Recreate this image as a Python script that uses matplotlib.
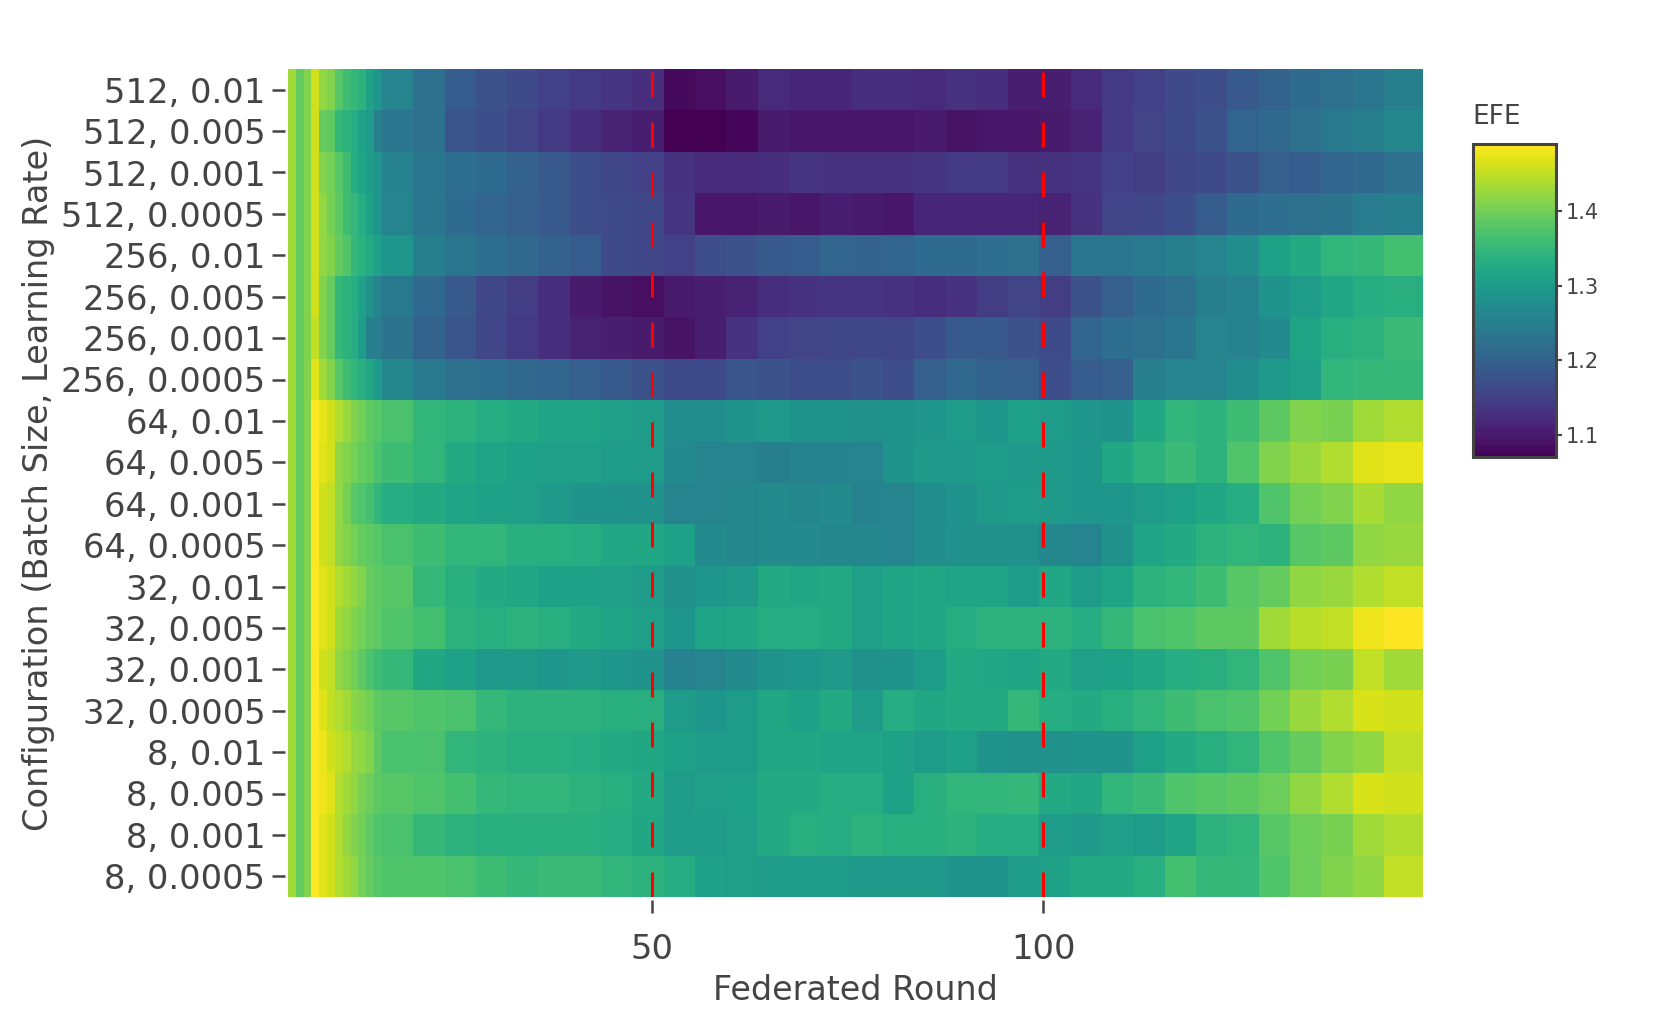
import numpy as np
import matplotlib
matplotlib.use("Agg")
import matplotlib.pyplot as plt

plt.rcParams['font.family'] = ['DejaVu Sans']
plt.rcParams['lines.scale_dashes'] = False

grey = '#444444'

configs = ['512, 0.01', '512, 0.005', '512, 0.001', '512, 0.0005',
           '256, 0.01', '256, 0.005', '256, 0.001', '256, 0.0005',
           '64, 0.01', '64, 0.005', '64, 0.001', '64, 0.0005',
           '32, 0.01', '32, 0.005', '32, 0.001', '32, 0.0005',
           '8, 0.01', '8, 0.005', '8, 0.001', '8, 0.0005']

# rounds 4-15 one by one, after that values are read per 4 rounds
round_edges = [3.5, 4.5, 5.5, 6.5, 7.5, 8.5, 9.5, 10.5, 11.5, 12.5, 13.5, 14.5, 15.5,
               19.5, 23.5, 27.5, 31.5, 35.5, 39.5, 43.5, 47.5, 51.5,
               55.5, 59.5, 63.5, 67.5, 71.5, 75.5, 79.5, 83.5, 87.5, 91.5, 95.5, 99.5,
               103.5, 107.5, 111.5, 115.5, 119.5, 123.5, 127.5, 131.5, 135.5, 139.5, 143.5, 148.5]

bs512_01 = [1.43, 1.39, 1.41, 1.46, 1.42, 1.41, 1.38, 1.36, 1.35, 1.34, 1.31, 1.29,
            1.26, 1.225, 1.19, 1.175, 1.165, 1.15, 1.14, 1.135, 1.125,
            1.08, 1.085, 1.10, 1.12, 1.115, 1.115, 1.125, 1.125, 1.12, 1.13, 1.125, 1.105,
            1.105, 1.12, 1.14, 1.15, 1.165, 1.17, 1.185, 1.20, 1.215, 1.225, 1.235, 1.25]
bs512_005 = [1.43, 1.39, 1.41, 1.46, 1.39, 1.385, 1.35, 1.34, 1.33, 1.31, 1.30, 1.25,
             1.235, 1.225, 1.18, 1.17, 1.155, 1.14, 1.125, 1.11, 1.105,
             1.07, 1.07, 1.075, 1.10, 1.095, 1.095, 1.095, 1.095, 1.10, 1.09, 1.095, 1.095,
             1.10, 1.11, 1.14, 1.155, 1.165, 1.175, 1.205, 1.21, 1.225, 1.24, 1.25, 1.265]
bs512_001 = [1.43, 1.39, 1.41, 1.46, 1.41, 1.40, 1.38, 1.36, 1.33, 1.315, 1.30, 1.29,
             1.255, 1.235, 1.22, 1.215, 1.20, 1.185, 1.17, 1.16, 1.15,
             1.13, 1.12, 1.12, 1.125, 1.135, 1.13, 1.13, 1.13, 1.135, 1.14, 1.14, 1.13,
             1.13, 1.135, 1.15, 1.145, 1.16, 1.165, 1.175, 1.195, 1.19, 1.205, 1.21, 1.225]
bs512_0005 = [1.43, 1.39, 1.41, 1.46, 1.42, 1.40, 1.385, 1.36, 1.35, 1.33, 1.31, 1.29,
              1.26, 1.235, 1.215, 1.205, 1.195, 1.185, 1.17, 1.165, 1.16,
              1.135, 1.095, 1.095, 1.10, 1.095, 1.105, 1.10, 1.095, 1.115, 1.115, 1.115, 1.115,
              1.11, 1.13, 1.155, 1.16, 1.17, 1.19, 1.215, 1.22, 1.225, 1.23, 1.245, 1.25]
bs256_01 = [1.43, 1.39, 1.41, 1.46, 1.42, 1.41, 1.39, 1.375, 1.35, 1.34, 1.325, 1.31,
            1.29, 1.25, 1.235, 1.22, 1.21, 1.20, 1.19, 1.165, 1.16,
            1.15, 1.17, 1.175, 1.185, 1.19, 1.205, 1.20, 1.205, 1.215, 1.215, 1.22, 1.225,
            1.195, 1.235, 1.235, 1.24, 1.25, 1.26, 1.275, 1.31, 1.325, 1.345, 1.35, 1.365]
bs256_005 = [1.43, 1.39, 1.41, 1.46, 1.41, 1.39, 1.35, 1.34, 1.33, 1.31, 1.28, 1.26,
             1.24, 1.21, 1.185, 1.16, 1.145, 1.125, 1.10, 1.09, 1.085,
             1.10, 1.105, 1.11, 1.125, 1.13, 1.135, 1.135, 1.13, 1.125, 1.13, 1.145, 1.155,
             1.145, 1.175, 1.195, 1.215, 1.225, 1.25, 1.255, 1.285, 1.30, 1.32, 1.33, 1.335]
bs256_001 = [1.43, 1.39, 1.41, 1.45, 1.41, 1.39, 1.35, 1.34, 1.33, 1.30, 1.25, 1.25,
             1.23, 1.20, 1.18, 1.16, 1.14, 1.125, 1.11, 1.105, 1.10,
             1.09, 1.105, 1.13, 1.15, 1.155, 1.16, 1.16, 1.16, 1.17, 1.185, 1.185, 1.175,
             1.165, 1.205, 1.22, 1.225, 1.235, 1.26, 1.255, 1.27, 1.315, 1.335, 1.34, 1.355]
bs256_0005 = [1.43, 1.39, 1.41, 1.47, 1.43, 1.41, 1.38, 1.36, 1.345, 1.335, 1.32, 1.30,
              1.265, 1.24, 1.225, 1.22, 1.21, 1.205, 1.195, 1.185, 1.175,
              1.165, 1.165, 1.18, 1.175, 1.17, 1.17, 1.175, 1.17, 1.195, 1.21, 1.20, 1.195,
              1.17, 1.19, 1.195, 1.25, 1.26, 1.26, 1.275, 1.295, 1.305, 1.345, 1.35, 1.35]
bs64_01 = [1.43, 1.39, 1.41, 1.49, 1.475, 1.46, 1.44, 1.425, 1.41, 1.40, 1.385, 1.38,
           1.37, 1.345, 1.34, 1.33, 1.325, 1.315, 1.315, 1.305, 1.30,
           1.275, 1.275, 1.285, 1.295, 1.285, 1.285, 1.28, 1.285, 1.29, 1.30, 1.29, 1.31,
           1.30, 1.29, 1.285, 1.32, 1.345, 1.34, 1.36, 1.385, 1.41, 1.405, 1.43, 1.44]
bs64_005 = [1.43, 1.39, 1.41, 1.49, 1.47, 1.46, 1.42, 1.41, 1.40, 1.39, 1.385, 1.37,
            1.36, 1.345, 1.325, 1.315, 1.31, 1.305, 1.305, 1.30, 1.30,
            1.27, 1.26, 1.26, 1.25, 1.255, 1.255, 1.26, 1.285, 1.295, 1.295, 1.30, 1.295,
            1.295, 1.29, 1.32, 1.34, 1.355, 1.34, 1.375, 1.41, 1.425, 1.44, 1.47, 1.475]
bs64_001 = [1.43, 1.39, 1.41, 1.49, 1.46, 1.45, 1.42, 1.40, 1.38, 1.375, 1.365, 1.345,
            1.33, 1.325, 1.315, 1.31, 1.305, 1.295, 1.285, 1.285, 1.28,
            1.26, 1.26, 1.265, 1.27, 1.265, 1.27, 1.255, 1.26, 1.275, 1.285, 1.295, 1.30,
            1.295, 1.29, 1.29, 1.30, 1.31, 1.32, 1.33, 1.375, 1.40, 1.41, 1.435, 1.42]
bs64_0005 = [1.43, 1.39, 1.41, 1.49, 1.46, 1.45, 1.42, 1.41, 1.40, 1.39, 1.385, 1.38,
             1.37, 1.36, 1.345, 1.345, 1.335, 1.335, 1.33, 1.32, 1.32,
             1.31, 1.27, 1.265, 1.27, 1.27, 1.265, 1.265, 1.26, 1.275, 1.28, 1.28, 1.28,
             1.265, 1.26, 1.28, 1.315, 1.325, 1.34, 1.345, 1.34, 1.38, 1.385, 1.42, 1.425]
bs32_01 = [1.43, 1.39, 1.41, 1.49, 1.47, 1.46, 1.44, 1.43, 1.42, 1.41, 1.39, 1.385,
           1.38, 1.35, 1.335, 1.325, 1.32, 1.31, 1.31, 1.305, 1.30,
           1.28, 1.29, 1.295, 1.325, 1.32, 1.325, 1.305, 1.315, 1.32, 1.315, 1.315, 1.30,
           1.32, 1.30, 1.315, 1.34, 1.345, 1.36, 1.38, 1.39, 1.42, 1.425, 1.44, 1.45]
bs32_005 = [1.43, 1.39, 1.41, 1.49, 1.47, 1.46, 1.43, 1.42, 1.41, 1.40, 1.39, 1.385,
            1.375, 1.365, 1.34, 1.335, 1.34, 1.335, 1.325, 1.315, 1.305,
            1.29, 1.315, 1.32, 1.33, 1.33, 1.325, 1.305, 1.315, 1.32, 1.33, 1.34, 1.34,
            1.34, 1.33, 1.35, 1.37, 1.375, 1.385, 1.385, 1.43, 1.445, 1.45, 1.48, 1.49]
bs32_001 = [1.43, 1.39, 1.41, 1.49, 1.46, 1.45, 1.42, 1.41, 1.40, 1.385, 1.37, 1.36,
            1.35, 1.32, 1.31, 1.295, 1.295, 1.29, 1.295, 1.29, 1.285,
            1.255, 1.26, 1.27, 1.285, 1.29, 1.295, 1.28, 1.285, 1.30, 1.325, 1.32, 1.315,
            1.325, 1.305, 1.31, 1.32, 1.33, 1.335, 1.345, 1.375, 1.40, 1.405, 1.45, 1.43]
bs32_0005 = [1.43, 1.39, 1.41, 1.49, 1.47, 1.45, 1.44, 1.43, 1.415, 1.41, 1.40, 1.385,
             1.38, 1.375, 1.37, 1.35, 1.34, 1.34, 1.34, 1.335, 1.335,
             1.30, 1.29, 1.30, 1.32, 1.31, 1.325, 1.30, 1.33, 1.32, 1.325, 1.325, 1.35,
             1.33, 1.325, 1.335, 1.345, 1.36, 1.37, 1.375, 1.40, 1.425, 1.44, 1.465, 1.46]
bs8_01 = [1.43, 1.39, 1.41, 1.49, 1.48, 1.46, 1.45, 1.44, 1.425, 1.42, 1.41, 1.385,
          1.37, 1.37, 1.345, 1.34, 1.335, 1.335, 1.33, 1.325, 1.32,
          1.31, 1.30, 1.30, 1.32, 1.32, 1.315, 1.315, 1.31, 1.30, 1.31, 1.285, 1.28,
          1.28, 1.285, 1.285, 1.31, 1.325, 1.335, 1.345, 1.375, 1.39, 1.41, 1.42, 1.45]
bs8_005 = [1.43, 1.39, 1.41, 1.49, 1.48, 1.47, 1.44, 1.43, 1.42, 1.405, 1.395, 1.385,
           1.38, 1.375, 1.365, 1.35, 1.345, 1.345, 1.34, 1.335, 1.325,
           1.30, 1.305, 1.31, 1.325, 1.325, 1.33, 1.33, 1.31, 1.335, 1.345, 1.345, 1.35,
           1.325, 1.32, 1.345, 1.355, 1.375, 1.38, 1.385, 1.395, 1.42, 1.44, 1.465, 1.46]
bs8_001 = [1.43, 1.39, 1.41, 1.49, 1.47, 1.46, 1.44, 1.42, 1.41, 1.40, 1.385, 1.375,
           1.37, 1.35, 1.34, 1.335, 1.335, 1.335, 1.335, 1.33, 1.32,
           1.30, 1.30, 1.305, 1.325, 1.335, 1.33, 1.34, 1.335, 1.335, 1.34, 1.33, 1.33,
           1.30, 1.295, 1.305, 1.30, 1.315, 1.34, 1.345, 1.38, 1.395, 1.405, 1.43, 1.44]
bs8_0005 = [1.43, 1.39, 1.41, 1.49, 1.47, 1.46, 1.44, 1.43, 1.42, 1.40, 1.39, 1.38,
            1.375, 1.375, 1.37, 1.36, 1.35, 1.355, 1.355, 1.345, 1.34,
            1.33, 1.31, 1.305, 1.30, 1.30, 1.30, 1.295, 1.295, 1.295, 1.285, 1.285, 1.30,
            1.31, 1.325, 1.325, 1.335, 1.365, 1.35, 1.35, 1.375, 1.395, 1.41, 1.42, 1.45]

efe = np.array([bs512_01, bs512_005, bs512_001, bs512_0005,
                bs256_01, bs256_005, bs256_001, bs256_0005,
                bs64_01, bs64_005, bs64_001, bs64_0005,
                bs32_01, bs32_005, bs32_001, bs32_0005,
                bs8_01, bs8_005, bs8_001, bs8_0005])

marked_rounds = [50, 100]
cbar_ticks = [1.1, 1.2, 1.3, 1.4]

W, H = 1661, 1026
fig = plt.figure(figsize=(W / 100, H / 100), dpi=100)
ax = fig.add_axes([288 / W, 1 - 897 / H, 1135 / W, 828 / H])

y_edges = np.arange(len(configs) + 1) - 0.5
mesh = ax.pcolormesh(round_edges, y_edges, efe, cmap='viridis', vmin=1.07, vmax=1.49)
ax.set_xlim(3.5, 148.5)
ax.set_ylim(len(configs) - 0.5, -0.5)

for r in marked_rounds:
    ax.plot([r, r], [len(configs) - 0.5, -0.5], color='red', lw=2.2,
            linestyle=(0, (18, 18)), solid_capstyle='butt', dash_capstyle='butt')

for s in ax.spines.values():
    s.set_visible(False)
ax.spines['left'].set_position(('outward', 2.2))
ax.spines['bottom'].set_position(('outward', 2.2))

ax.set_yticks(range(len(configs)))
ax.set_yticklabels(configs)
ax.set_xticks(marked_rounds)
ax.tick_params(axis='both', direction='out', length=9.5, width=1.8, color=grey,
               labelcolor=grey, labelsize=24.3, pad=4.5)
ax.tick_params(axis='x', pad=14)

ax.set_xlabel('Federated Round', fontsize=24, color=grey, labelpad=5.7)
ax.set_ylabel('Configuration (Batch Size, Learning Rate)', fontsize=24.2, color=grey)
ax.yaxis.set_label_coords((55 - 288) / 1135, 0.5)

cax = fig.add_axes([1473 / W, 1 - 457 / H, 83 / W, 313 / H])
cb = fig.colorbar(mesh, cax=cax)
cb.set_ticks(cbar_ticks)
cb.ax.tick_params(length=4, width=1.5, color=grey, labelcolor=grey, labelsize=15, pad=3)
cb.outline.set_edgecolor(grey)
cb.outline.set_linewidth(2.2)
fig.text(1472 / W, 1 - 124 / H, 'EFE', fontsize=19, color=grey, ha='left', va='baseline')

fig.savefig('out.png', dpi=100)
